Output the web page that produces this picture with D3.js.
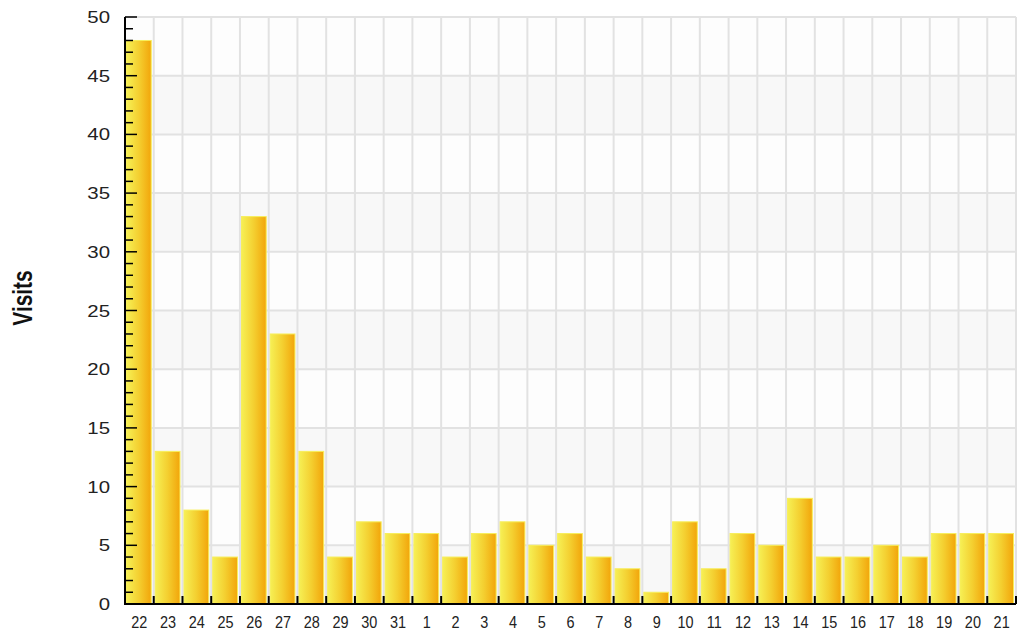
<!DOCTYPE html>
<html><head><meta charset="utf-8">
<script src="https://cdn.jsdelivr.net/npm/d3@7"></script>
<style>body{margin:0;background:#fff}svg{display:block}</style>
</head><body>
<script>
const categories = ["22","23","24","25","26","27","28","29","30","31","1","2","3","4","5","6","7","8","9","10","11","12","13","14","15","16","17","18","19","20","21"];
const visits = [48,13,8,4,33,23,13,4,7,6,6,4,6,7,5,6,4,3,1,7,3,6,5,9,4,4,5,4,6,6,6];
const yTicks = [0,5,10,15,20,25,30,35,40,45,50];
const yTitle = "Visits";

const W = 1018, H = 630;
const m = {left:125, right:1016, top:17, bottom:604};
const svg = d3.select("body").append("svg").attr("width",W).attr("height",H);

const x = d3.scaleBand().domain(categories).range([m.left, m.right]);
const y = d3.scaleLinear().domain([0,50]).range([m.bottom, m.top]);

const defs = svg.append("defs");
const g = defs.append("linearGradient").attr("id","bar").attr("x1","0").attr("x2","1").attr("y1","0").attr("y2","0");
g.append("stop").attr("offset","0").attr("stop-color","#f6f055");
g.append("stop").attr("offset","0.5").attr("stop-color","#f4cf30");
g.append("stop").attr("offset","1").attr("stop-color","#f2a50a");

// bands
for (let i=0;i<yTicks.length-1;i++){
  svg.append("rect").attr("x",m.left).attr("width",m.right-m.left)
    .attr("y",y(yTicks[i+1])).attr("height",y(yTicks[i])-y(yTicks[i+1]))
    .attr("fill", i%2===0 ? "#f8f8f8" : "#fdfdfd");
}
// horizontal grid
svg.append("g").selectAll("line").data(yTicks).join("line")
  .attr("x1",m.left).attr("x2",m.right).attr("y1",d=>y(d)).attr("y2",d=>y(d))
  .attr("stroke","#e2e2e2").attr("stroke-width",2);
// vertical grid
const bounds = categories.map(c=>x(c)).concat([m.right]);
svg.append("g").selectAll("line").data(bounds).join("line")
  .attr("x1",d=>d).attr("x2",d=>d).attr("y1",m.top).attr("y2",m.bottom)
  .attr("stroke","#e2e2e2").attr("stroke-width",2);

// bars
svg.append("g").selectAll("rect").data(categories).join("rect")
  .attr("x",(d)=>x(d)+1.5).attr("width",x.bandwidth()-4)
  .attr("y",(d,i)=>y(visits[i])).attr("height",(d,i)=>y(0)-y(visits[i]))
  .attr("fill","url(#bar)").attr("stroke","#f7ee5a").attr("stroke-width",1);

// y axis
const yAx = svg.append("g");
yAx.append("line").attr("x1",m.left).attr("x2",m.left).attr("y1",m.top).attr("y2",m.bottom+1).attr("stroke","#000").attr("stroke-width",2);
const minor = d3.range(0,51,1);
yAx.selectAll("line.t").data(minor).join("line").attr("class","t")
  .attr("x1",m.left).attr("x2",d=>m.left+(d%5===0?12:8))
  .attr("y1",d=>y(d)).attr("y2",d=>y(d)).attr("stroke","#000").attr("stroke-width",1.5);
yAx.selectAll("text").data(yTicks).join("text")
  .attr("transform",d=>`translate(110,${y(d)+6}) scale(1.2,1)`)
  .attr("text-anchor","end").attr("font-family","Liberation Sans, Arial, sans-serif")
  .attr("font-size",17).attr("fill","#222").text(d=>d);

// x axis
const xAx = svg.append("g");
xAx.append("line").attr("x1",m.left-1).attr("x2",m.right).attr("y1",m.bottom).attr("y2",m.bottom).attr("stroke","#000").attr("stroke-width",2);
xAx.selectAll("line.t").data(bounds.slice(1)).join("line").attr("class","t")
  .attr("x1",d=>d).attr("x2",d=>d).attr("y1",m.bottom-8).attr("y2",m.bottom)
  .attr("stroke","#000").attr("stroke-width",2);
xAx.selectAll("text").data(categories).join("text")
  .attr("transform",d=>`translate(${x(d)+x.bandwidth()/2},628) scale(0.85,1)`)
  .attr("text-anchor","middle").attr("font-family","Liberation Sans, Arial, sans-serif")
  .attr("font-size",17).attr("fill","#222").text(d=>d);

// y title
svg.append("text")
  .attr("transform",`translate(32,298) rotate(-90) scale(1.1,1.45)`)
  .attr("text-anchor","middle").attr("font-family","Liberation Sans, Arial, sans-serif")
  .attr("font-weight","bold").attr("font-size",19).attr("fill","#111").text(yTitle);
</script>
</body></html>
